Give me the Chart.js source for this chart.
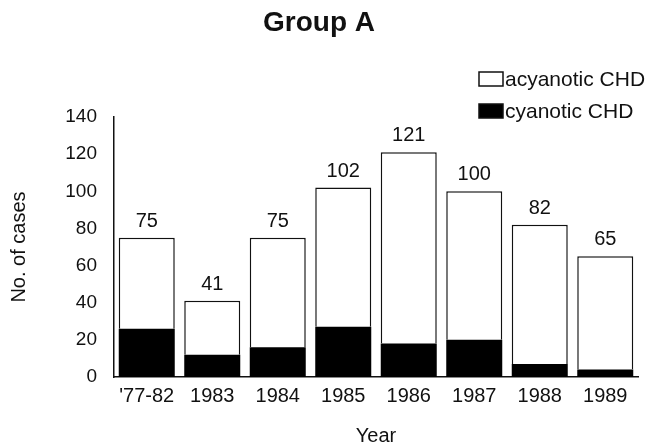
<!DOCTYPE html>
<html>
<head>
<meta charset="utf-8">
<script src="https://cdn.jsdelivr.net/npm/chart.js@4/dist/chart.umd.min.js"></script>
<style>
  html, body { margin: 0; padding: 0; background: #fff; }
  canvas { display: block; }
</style>
</head>
<body>
<canvas id="c" width="650" height="446"></canvas>
<script>
const categories = ["'77-82", "1983", "1984", "1985", "1986", "1987", "1988", "1989"];
const cyanotic = [26, 12, 16, 27, 18, 20, 7, 4];
const acyanotic = [49, 29, 59, 75, 103, 80, 75, 61];
const seriesNames = ["cyanotic CHD", "acyanotic CHD"];
const yTicks = [0, 20, 40, 60, 80, 100, 120, 140];

const FONT = "'Liberation Sans', Arial, Helvetica, sans-serif";

const totalsPlugin = {
  id: 'totals',
  afterDatasetsDraw(chart) {
    const ctx = chart.ctx;
    const y = chart.scales.y;
    const x = chart.scales.x;
    ctx.save();
    ctx.font = "20px " + FONT;
    ctx.fillStyle = '#111';
    ctx.textAlign = 'center';
    ctx.textBaseline = 'alphabetic';
    categories.forEach((c, i) => {
      const total = cyanotic[i] + acyanotic[i];
      ctx.fillText(String(total), x.getPixelForValue(i), y.getPixelForValue(total) - 11);
    });
    ctx.restore();
  }
};

const legendPlugin = {
  id: 'customLegend',
  afterDraw(chart) {
    const ctx = chart.ctx;
    ctx.save();
    ctx.font = "21px " + FONT;
    ctx.textBaseline = 'middle';
    ctx.textAlign = 'left';
    const items = chart.data.datasets.slice().reverse();
    items.forEach((ds, k) => {
      const cy = 79 + k * 32;
      const bx = 479, bw = 24, bh = 14;
      ctx.fillStyle = ds.backgroundColor;
      ctx.fillRect(bx, cy - bh / 2, bw, bh);
      ctx.lineWidth = 1.5;
      ctx.strokeStyle = '#111';
      ctx.strokeRect(bx, cy - bh / 2, bw, bh);
      ctx.fillStyle = '#111';
      ctx.fillText(ds.label, bx + bw + 2, cy + 1);
    });
    ctx.restore();
  }
};

new Chart(document.getElementById('c'), {
  type: 'bar',
  data: {
    labels: categories,
    datasets: [
      {
        label: seriesNames[0],
        data: cyanotic,
        backgroundColor: '#000000',
        borderColor: '#000000',
        borderWidth: 0,
        barPercentage: 0.855,
        categoryPercentage: 1.0
      },
      {
        label: seriesNames[1],
        data: acyanotic,
        backgroundColor: '#ffffff',
        borderColor: '#111111',
        borderWidth: 1.5,
        borderSkipped: 'start',
        barPercentage: 0.855,
        categoryPercentage: 1.0
      }
    ]
  },
  options: {
    responsive: false,
    animation: false,
    devicePixelRatio: 1,
    layout: { padding: { left: 0, right: 12, top: 0, bottom: 0 } },
    plugins: {
      legend: { display: false },
      tooltip: { enabled: false },
      title: {
        display: true,
        text: 'Group A',
        color: '#111',
        font: { family: FONT, size: 28, weight: 'bold', lineHeight: 1.2 },
        padding: { top: 6, bottom: 77.4 }
      }
    },
    scales: {
      x: {
        stacked: true,
        grid: { display: false, drawTicks: false },
        border: { display: true, color: '#111', width: 1.5 },
        ticks: {
          color: '#111',
          font: { family: FONT, size: 20 },
          padding: 7,
          maxRotation: 0,
          autoSkip: false
        },
        title: {
          display: true,
          text: 'Year',
          color: '#111',
          font: { family: FONT, size: 20, lineHeight: 1.0 },
          padding: { top: 0, bottom: 0 }
        },
        afterFit(scale) { scale.height = 69; }
      },
      y: {
        stacked: true,
        min: 0,
        max: 140,
        grid: { display: false, drawTicks: false },
        border: { display: true, color: '#111', width: 1.5 },
        afterBuildTicks(scale) { scale.ticks = yTicks.map(v => ({ value: v })); },
        ticks: {
          color: '#111',
          font: { family: FONT, size: 19 },
          padding: 17
        },
        title: {
          display: true,
          text: 'No. of cases',
          color: '#111',
          font: { family: FONT, size: 20, lineHeight: 1.2 },
          padding: { top: 7, bottom: 0 }
        },
        afterFit(scale) { scale.width = 114; }
      }
    }
  },
  plugins: [totalsPlugin, legendPlugin]
});
</script>
</body>
</html>
